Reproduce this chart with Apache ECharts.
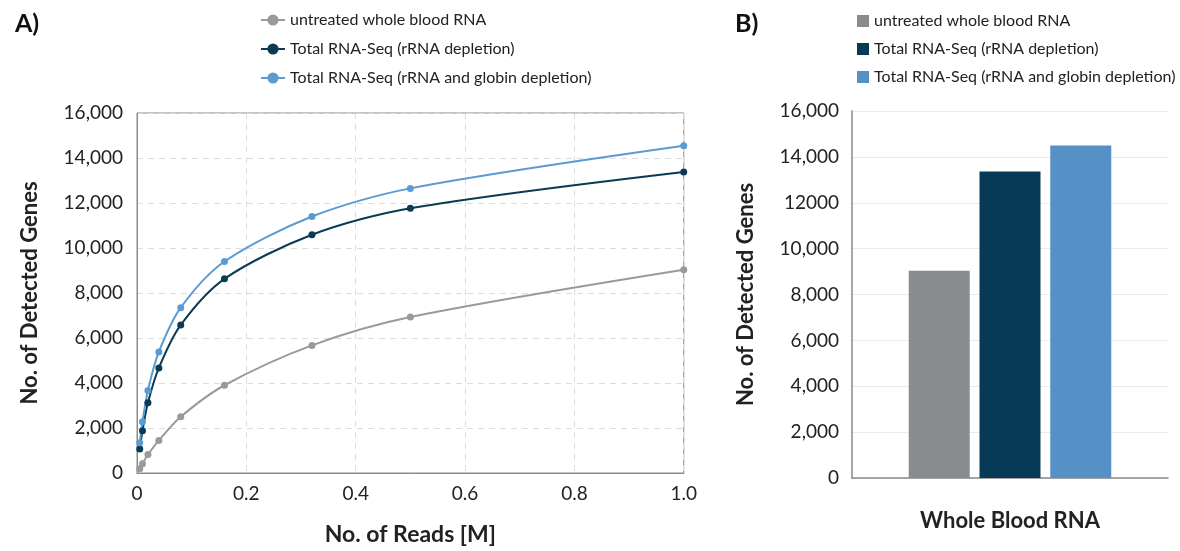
<!DOCTYPE html>
<html>
<head>
<meta charset="utf-8">
<script src="https://cdn.jsdelivr.net/npm/echarts@6/dist/echarts.min.js"></script>
<style>
  html, body { margin: 0; padding: 0; background: #fff; }
  #left { position: absolute; left: 0; top: 0; width: 700px; height: 551px; }
  #right { position: absolute; left: 700px; top: 0; width: 480px; height: 551px; }
</style>
</head>
<body>
<div id="left"></div>
<div id="right"></div>
<script>
// data
const seriesNames = [
  'untreated whole blood RNA',
  'Total RNA-Seq (rRNA depletion)',
  'Total RNA-Seq (rRNA and globin depletion)'
];
const reads = [0.005, 0.01, 0.02, 0.04, 0.08, 0.16, 0.32, 0.5, 1.0];
const untreated = [190, 410, 820, 1450, 2500, 3900, 5670, 6930, 9030];
const rrnaDepl = [1070, 1880, 3120, 4670, 6580, 8630, 10590, 11770, 13380];
const rrnaGlobinDepl = [1340, 2280, 3670, 5380, 7350, 9400, 11400, 12650, 14540];

const barCategories = ['Whole Blood RNA'];
const barValues = [9040, 13360, 14500];

const xTicks = ['0', '0.2', '0.4', '0.6', '0.8', '1.0'];
const yTicksLeft = ['0', '2,000', '4,000', '6,000', '8,000', '10,000', '12,000', '14,000', '16,000'];
const yTicksRight = ['0', '2,000', '4,000', '6,000', '8,000', '10,000', '12000', '14,000', '16,000'];

const lineColors = ['#9a9a9a', '#0b3a55', '#5b9bd2'];
const barColors = ['#898c8f', '#063a57', '#5591c7'];

const FONT = 'Lato, "Open Sans", sans-serif';
const AXIS_GRAY = '#8a8a8a';

const lineData = [untreated, rrnaDepl, rrnaGlobinDepl];

// A) saturation curves
const left = echarts.init(document.getElementById('left'));
left.setOption({
  animation: false,
  textStyle: { fontFamily: FONT },
  title: {
    text: 'A)', left: 10, top: 6,
    textStyle: { fontFamily: FONT, fontSize: 25, fontWeight: 'bold', color: '#111' }
  },
  legend: {
    orient: 'vertical', left: 255, top: 7,
    itemWidth: 24, itemHeight: 14, itemGap: 13,
    data: seriesNames,
    textStyle: { fontFamily: FONT, fontSize: 16, lineHeight: 16, color: '#222' }
  },
  grid: {
    left: 137, right: 16, top: 113, bottom: 75,
    show: true, borderColor: AXIS_GRAY, borderWidth: 1
  },
  xAxis: {
    type: 'value', min: 0, max: 1, interval: 0.2,
    name: 'No. of Reads [M]', nameLocation: 'middle', nameGap: 50,
    nameTextStyle: { fontFamily: FONT, fontSize: 23, fontWeight: 'bold', color: '#222' },
    axisLine: { show: true, lineStyle: { color: AXIS_GRAY } },
    axisTick: { show: false },
    axisLabel: {
      margin: 11, fontSize: 19, color: '#222', fontFamily: FONT,
      formatter: (v) => xTicks[Math.round(v / 0.2)]
    },
    splitLine: { show: true, lineStyle: { color: '#dcdcdc', type: [6, 5] } }
  },
  yAxis: {
    type: 'value', min: 0, max: 16000, interval: 2000,
    name: 'No. of Detected Genes', nameLocation: 'middle', nameGap: 96,
    nameTextStyle: { fontFamily: FONT, fontSize: 22, fontWeight: 'bold', color: '#222' },
    axisLine: { show: true, lineStyle: { color: AXIS_GRAY } },
    axisTick: { show: false },
    axisLabel: {
      margin: 14, fontSize: 19, color: '#222', fontFamily: FONT,
      formatter: (v) => yTicksLeft[Math.round(v / 2000)]
    },
    splitLine: { show: true, lineStyle: { color: '#dcdcdc', type: [6, 5] } }
  },
  series: seriesNames.map((name, i) => ({
    name: name,
    type: 'line',
    smooth: 0.3,
    symbol: 'circle',
    symbolSize: 7,
    lineStyle: { width: 2, color: lineColors[i] },
    itemStyle: { color: lineColors[i] },
    data: reads.map((x, j) => [x, lineData[i][j]])
  }))
});

// B) bar comparison at 1M reads
const right = echarts.init(document.getElementById('right'));
right.setOption({
  animation: false,
  textStyle: { fontFamily: FONT },
  title: {
    text: 'B)', left: 30, top: 6,
    textStyle: { fontFamily: FONT, fontSize: 25, fontWeight: 'bold', color: '#111' }
  },
  legend: {
    orient: 'vertical', left: 152, top: 8,
    icon: 'rect', itemWidth: 12, itemHeight: 12, itemGap: 12,
    data: seriesNames,
    textStyle: { fontFamily: FONT, fontSize: 16, lineHeight: 16, color: '#222' }
  },
  grid: { left: 152, right: 12, top: 111, bottom: 73 },
  xAxis: {
    type: 'category', data: barCategories,
    axisLine: { show: true, lineStyle: { color: AXIS_GRAY, width: 1.5 } },
    axisTick: { show: false },
    axisLabel: {
      margin: 32, fontSize: 22, fontWeight: 'bold', color: '#222', fontFamily: FONT
    }
  },
  yAxis: {
    type: 'value', min: 0, max: 16000, interval: 2000,
    name: 'No. of Detected Genes', nameLocation: 'middle', nameGap: 95,
    nameTextStyle: { fontFamily: FONT, fontSize: 22, fontWeight: 'bold', color: '#222' },
    axisLine: { show: true, lineStyle: { color: AXIS_GRAY, width: 1.5 } },
    axisTick: { show: false },
    axisLabel: {
      margin: 13, fontSize: 19, color: '#222', fontFamily: FONT,
      formatter: (v) => yTicksRight[Math.round(v / 2000)]
    },
    splitLine: { show: true, lineStyle: { color: '#e9e9e9' } }
  },
  series: seriesNames.map((name, i) => ({
    name: name,
    type: 'bar',
    barWidth: 61,
    barGap: '16%',
    itemStyle: { color: barColors[i] },
    data: [barValues[i]]
  }))
});
</script>
</body>
</html>
